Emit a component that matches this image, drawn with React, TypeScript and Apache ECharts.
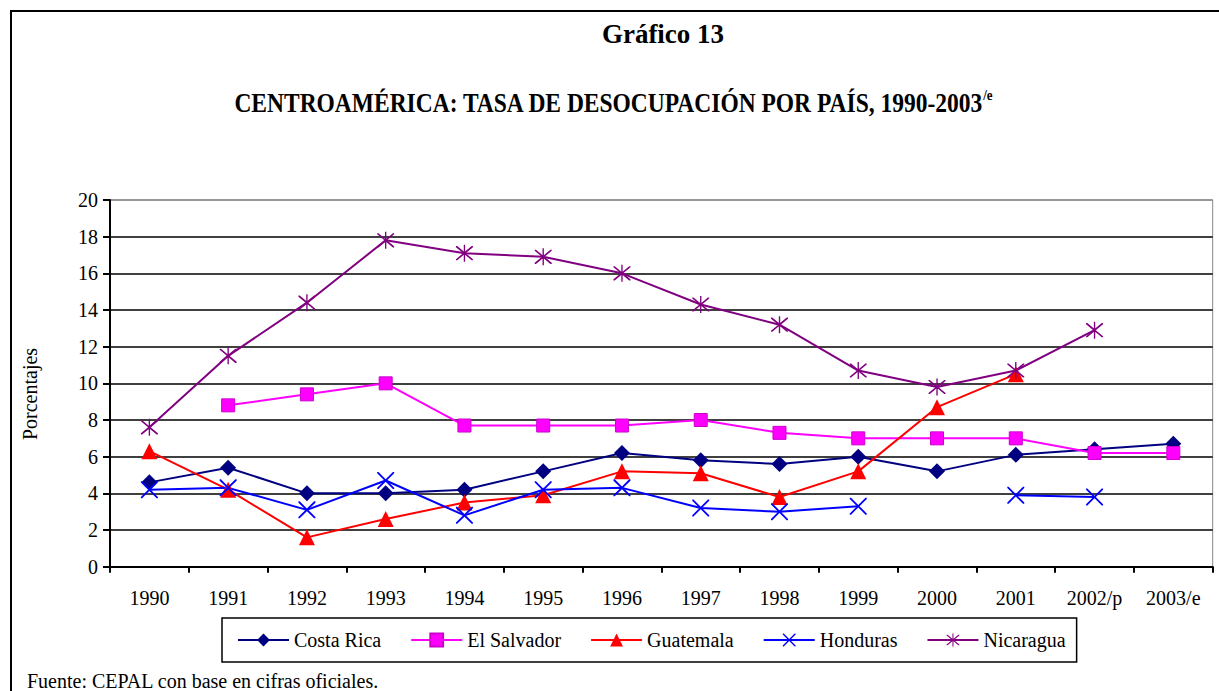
import React, { useEffect, useRef } from "react";
import * as echarts from "echarts";

const categories = ["1990", "1991", "1992", "1993", "1994", "1995", "1996", "1997", "1998", "1999", "2000", "2001", "2002/p", "2003/e"];
const costaRica = [4.6, 5.4, 4.0, 4.0, 4.2, 5.2, 6.2, 5.8, 5.6, 6.0, 5.2, 6.1, 6.4, 6.7];
const elSalvador = [null, 8.8, 9.4, 10.0, 7.7, 7.7, 7.7, 8.0, 7.3, 7.0, 7.0, 7.0, 6.2, 6.2];
const guatemala = [6.3, 4.2, 1.6, 2.6, 3.5, 3.9, 5.2, 5.1, 3.8, 5.2, 8.7, 10.5, null, null];
const honduras = [4.2, 4.3, 3.1, 4.7, 2.8, 4.2, 4.3, 3.2, 3.0, 3.3, null, 3.9, 3.8, null];
const nicaragua = [7.6, 11.5, 14.4, 17.8, 17.1, 16.9, 16.0, 14.3, 13.2, 10.7, 9.8, 10.7, 12.9, null];
const yTicks = [0, 2, 4, 6, 8, 10, 12, 14, 16, 18, 20];

const FONT = "Liberation Serif";
const X_SYMBOL =
  "path://M0,0 L1.5,0 L10,8.5 L18.5,0 L20,0 L20,1.5 L11.5,10 L20,18.5 L20,20 L18.5,20 L10,11.5 L1.5,20 L0,20 L0,18.5 L8.5,10 L0,1.5 Z";
const STAR_SYMBOL =
  "path://M0,0 L1.5,0 L10,8.5 L18.5,0 L20,0 L20,1.5 L11.5,10 L20,18.5 L20,20 L18.5,20 L10,11.5 L1.5,20 L0,20 L0,18.5 L8.5,10 L0,1.5 Z M9.2,-2 L10.8,-2 L10.8,22 L9.2,22 Z";

export default function App() {
  const ref = useRef<HTMLDivElement>(null);
  useEffect(() => {
    if (!ref.current) return;
    const chart = echarts.init(ref.current, null, { renderer: "svg" });
    const mk = (name: string, data: (number | null)[], color: string, symbol: string, size: number, extra: any = {}) => ({
      name,
      type: "line",
      data,
      symbol,
      symbolSize: size,
      connectNulls: false,
      lineStyle: { color, width: 2 },
      itemStyle: { color, borderWidth: 0, ...extra },
      emphasis: { disabled: true },
    });
    chart.setOption({
      animation: false,
      backgroundColor: "#fff",
      textStyle: { fontFamily: FONT },
      grid: {
        left: 110,
        top: 200,
        right: 6.3,
        bottom: 124.3,
        show: true,
        borderColor: "#888",
        borderWidth: 1,
        backgroundColor: "transparent",
      },
      xAxis: {
        type: "category",
        data: categories,
        boundaryGap: true,
        axisLine: { lineStyle: { color: "#000", width: 2 } },
        axisTick: { show: true, length: 6, lineStyle: { color: "#000", width: 2 } },
        axisLabel: { color: "#000", fontSize: 20, fontFamily: FONT, margin: 21, interval: 0 },
        splitLine: { show: false },
      },
      yAxis: {
        type: "value",
        min: 0,
        max: 20,
        interval: 2,
        axisLine: { show: true, lineStyle: { color: "#000", width: 2 } },
        axisTick: { show: true, length: 7, lineStyle: { color: "#000", width: 2 } },
        axisLabel: {
          color: "#000",
          fontSize: 20,
          fontFamily: FONT,
          margin: 12,
          formatter: (v: number) => (yTicks.includes(v) ? String(v) : ""),
        },
        splitLine: {
          show: true,
          lineStyle: {
            color: ["#000", "#000", "#000", "#000", "#000", "#000", "#000", "#000", "#000", "#000", "#888"],
            width: 1.5,
          },
        },
      },
      legend: {
        left: 222,
        top: 618,
        orient: "horizontal",
        padding: [12, 11, 12, 15],
        itemGap: 29,
        itemWidth: 51,
        itemHeight: 16,
        borderColor: "#000",
        borderWidth: 1.5,
        backgroundColor: "#fff",
        textStyle: { color: "#000", fontSize: 20, fontFamily: FONT },
        data: ["Costa Rica", "El Salvador", "Guatemala", "Honduras", "Nicaragua"],
      },
      graphic: [
        {
          type: "rect",
          shape: { x: 11, y: 11, width: 1400, height: 900 },
          style: { fill: "none", stroke: "#000", lineWidth: 2 },
          silent: true,
        },
        {
          type: "text",
          x: 663,
          y: 34,
          style: {
            text: "Gráfico 13",
            font: `bold 27px ${FONT}`,
            fill: "#000",
            align: "center",
            verticalAlign: "middle",
          },
        },
        {
          type: "text",
          x: 613,
          y: 102,
          scaleX: 0.87,
          style: {
            text: "{m|CENTROAMÉRICA: TASA DE DESOCUPACIÓN POR PAÍS, 1990-2003}{s|/e}",
            align: "center",
            verticalAlign: "middle",
            fill: "#000",
            rich: {
              m: { fontFamily: FONT, fontWeight: "bold", fontSize: 27, fill: "#000", lineHeight: 30 },
              s: { fontFamily: FONT, fontWeight: "bold", fontSize: 15, fill: "#000", verticalAlign: "top", lineHeight: 30 },
            },
          },
        },
        {
          type: "text",
          x: 30,
          y: 394,
          rotation: Math.PI / 2,
          style: {
            text: "Porcentajes",
            font: `20px ${FONT}`,
            fill: "#000",
            align: "center",
            verticalAlign: "middle",
          },
        },
        {
          type: "text",
          x: 27,
          y: 681,
          style: {
            text: "Fuente: CEPAL con base en cifras oficiales.",
            font: `20px ${FONT}`,
            fill: "#000",
            align: "left",
            verticalAlign: "middle",
          },
        },
      ],
      series: [
        mk("Costa Rica", costaRica, "#000080", "diamond", 16),
        mk("El Salvador", elSalvador, "#FF00FF", "rect", 13, { borderColor: "#cc00cc", borderWidth: 1 }),
        mk("Guatemala", guatemala, "#FF0000", "triangle", 16),
        mk("Honduras", honduras, "#0000FF", X_SYMBOL, 17),
        mk("Nicaragua", nicaragua, "#800080", STAR_SYMBOL, 17),
      ],
    });
    return () => chart.dispose();
  }, []);
  return <div ref={ref} style={{ position: "absolute", left: 0, top: 0, width: 1219, height: 691 }} />;
}
